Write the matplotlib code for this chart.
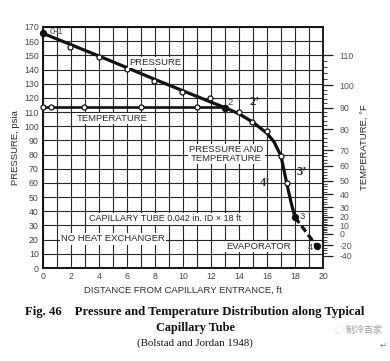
import numpy as np
import matplotlib
matplotlib.use("Agg")
import matplotlib.pyplot as plt

# ---- data ----
# solid pressure curve (ft, psia)
line_x = [0, 2, 4, 6, 8, 10, 12, 13, 14, 15, 16, 16.5, 17, 17.4, 17.7, 18]
line_p = [165.5, 157.5, 149.5, 141.3, 133.0, 125.0, 117.0, 113.1, 108.8, 102.8, 95.0, 89.0, 79.0, 60.3, 47.0, 35.7]
# measured pressure points (open circles)
pres_x = [1.93, 4.0, 5.98, 7.93, 9.9, 11.93, 14.0, 14.95, 16.02, 17.0, 17.4]
pres_p = [155.7, 149.0, 140.4, 131.8, 123.8, 120.1, 109.8, 102.8, 96.6, 79.0, 60.3]
# temperature line (plotted on saturation pressure scale)
temp_x = [0, 13]
temp_p = [113.3, 113.3]
temp_pts_x = [0, 0.55, 2.95, 7.02, 11.0]
temp_pts_p = [113.3, 113.3, 113.3, 113.3, 113.3]
# state points (filled)
state_x = [0, 13.0, 18.0, 19.55]
state_p = [165.5, 113.1, 35.7, 15.5]
# evaporator (dashed) segment
evap_x = [18.0, 19.55]
evap_p = [35.7, 15.5]
# right axis: temperature (F) and corresponding saturation pressure (psia)
temp_ticks_F = [110, 100, 90, 80, 70, 60, 50, 40, 30, 20, 10, 0, -20, -40]
temp_ticks_p = [150.0, 128.8, 112.9, 98.0, 83.0, 72.2, 61.4, 52.0, 43.0, 36.0, 30.2, 24.0, 16.2, 8.6]
x_ticks = list(range(0, 21, 2))
y_ticks = list(range(0, 171, 10))

sans = ["Liberation Sans", "DejaVu Sans"]
serif = ["Liberation Serif", "DejaVu Serif"]
tc = "#2a2a2a"

fig = plt.figure(figsize=(3.90, 3.61), dpi=100)
ax = fig.add_axes([43/390, 93/361, 280/390, 241/361])
ax.set_xlim(0, 20)
ax.set_ylim(0, 170)

# grid
ax.set_xticks(x_ticks)
ax.set_xticks(range(0, 21), minor=True)
ax.set_yticks(y_ticks)
ax.grid(True, which="both", color="#262626", lw=0.8)
ax.set_axisbelow(True)
ax.tick_params(which="both", length=0, labelsize=6.3, labelcolor="#444", pad=3)
for lab in ax.get_xticklabels() + ax.get_yticklabels():
    lab.set_family(sans)
for s in ax.spines.values():
    s.set_linewidth(1.4)
    s.set_color("#111")

# curves
ax.plot(line_x, line_p, color="#111", lw=2.3, solid_capstyle="round", zorder=3)
ax.plot(temp_x, temp_p, color="#111", lw=1.9, zorder=3)
ax.plot(evap_x, evap_p, color="#111", lw=2.3, ls=(0, (2.2, 1.2)), zorder=3)
ax.plot(pres_x, pres_p, "o", ms=3.6, mfc="white", mec="#111", mew=0.9, zorder=4, clip_on=False)
ax.plot(temp_pts_x, temp_pts_p, "o", ms=3.6, mfc="white", mec="#111", mew=0.9, zorder=4, clip_on=False)
ax.plot(state_x, state_p, "o", ms=4.3, color="#111", zorder=5, clip_on=False)

box = dict(facecolor="white", edgecolor="none", pad=0.8)
fs = 6.8
ax.text(0.45, 166.5, "0-1", fontsize=fs, family=sans, color="#555", ha="left", va="center", zorder=6)
ax.text(8.0, 145.0, "PRESSURE", fontsize=fs, family=sans, color=tc, ha="center", va="center", bbox=box, zorder=6)
ax.text(4.95, 105.5, "TEMPERATURE", fontsize=fs, family=sans, color=tc, ha="center", va="center", bbox=box, zorder=6)
ax.text(13.4, 116.5, "2", fontsize=fs, family=sans, color="#444", ha="center", va="center", zorder=6)
ax.text(15.1, 117.0, "2\u2019", fontsize=9, family=serif, weight="bold", color=tc, ha="center", va="center", zorder=6)
ax.text(13.1, 80.5, "PRESSURE AND\nTEMPERATURE", fontsize=fs, family=sans, color=tc, ha="center", va="center",
        linespacing=1.0, bbox=box, zorder=6)
ax.text(18.45, 68.0, "3\u2019", fontsize=9, family=serif, weight="bold", color=tc, ha="center", va="center", zorder=6)
ax.text(15.85, 60.0, "4\u2019", fontsize=9, family=serif, weight="bold", color=tc, ha="center", va="center", zorder=6)
ax.text(8.75, 34.6, "CAPILLARY TUBE 0.042 in. ID \u00d7 18 ft", fontsize=6.5, family=sans, color=tc,
        ha="center", va="center", bbox=box, zorder=6)
ax.text(5.0, 20.5, "NO HEAT EXCHANGER", fontsize=fs, family=sans, color=tc, ha="center", va="center", bbox=box, zorder=6)
ax.text(15.4, 15.0, "EVAPORATOR", fontsize=fs, family=sans, color=tc, ha="center", va="center", bbox=box, zorder=6)
ax.text(18.55, 36.5, "3", fontsize=fs, family=sans, color="#444", ha="center", va="center", zorder=6)
ax.text(19.1, 14.3, "4", fontsize=fs, family=sans, color="#444", ha="center", va="center", zorder=6)

ax.set_xlabel("DISTANCE FROM CAPILLARY ENTRANCE, ft", fontsize=6.8, family=sans, color=tc, labelpad=3)
ax.set_ylabel("PRESSURE, psia", fontsize=6.8, family=sans, color=tc, labelpad=3)

# right temperature axis
ax2 = ax.twinx()
ax2.set_ylim(0, 170)
ax2.set_yticks(temp_ticks_p)
ax2.set_yticklabels([str(t) for t in temp_ticks_F], family=sans, fontsize=6.3, color="#555")
Fs = np.array(temp_ticks_F[::-1], dtype=float)
Ps = np.array(temp_ticks_p[::-1], dtype=float)
minor_F = np.concatenate([np.arange(-40, 0, 5), np.arange(0, 112, 2)])
ax2.set_yticks(np.interp(minor_F, Fs, Ps), minor=True)
ax2.tick_params(axis="y", which="major", length=7, width=0.9, color="#222", pad=5)
ax2.tick_params(axis="y", which="minor", length=3, width=0.6, color="#222")
for s in ax2.spines.values():
    s.set_visible(False)
ax2.spines["right"].set_visible(True)
ax2.spines["right"].set_linewidth(1.2)
ax2.spines["right"].set_color("#222")
ax2.set_ylabel("TEMPERATURE, \u00b0F", fontsize=6.8, family=sans, color=tc, labelpad=4)

# caption
fig.text(0.5, 1 - 312/361, "Fig. 46    Pressure and Temperature Distribution along Typical",
         fontsize=9.2, family=serif, weight="bold", ha="center", va="center", color="#111")
fig.text(0.5, 1 - 328/361, "Capillary Tube", fontsize=8.8, family=serif, weight="bold",
         ha="center", va="center", color="#111")
fig.text(0.5, 1 - 343/361, "(Bolstad and Jordan 1948)", fontsize=7.8, family=serif,
         ha="center", va="center", color="#111")
fig.text(335/390, 1 - 330/361, "\u25cc 制冷百家", fontsize=6.5, family=["Noto Sans CJK SC", "DejaVu Sans"],
         ha="left", va="center", color="#999")
fig.text(383/390, 1 - 345/361, "\u21b5", fontsize=6, family=["DejaVu Sans"], ha="center", va="center", color="#777")

fig.savefig("out.png", dpi=100)
